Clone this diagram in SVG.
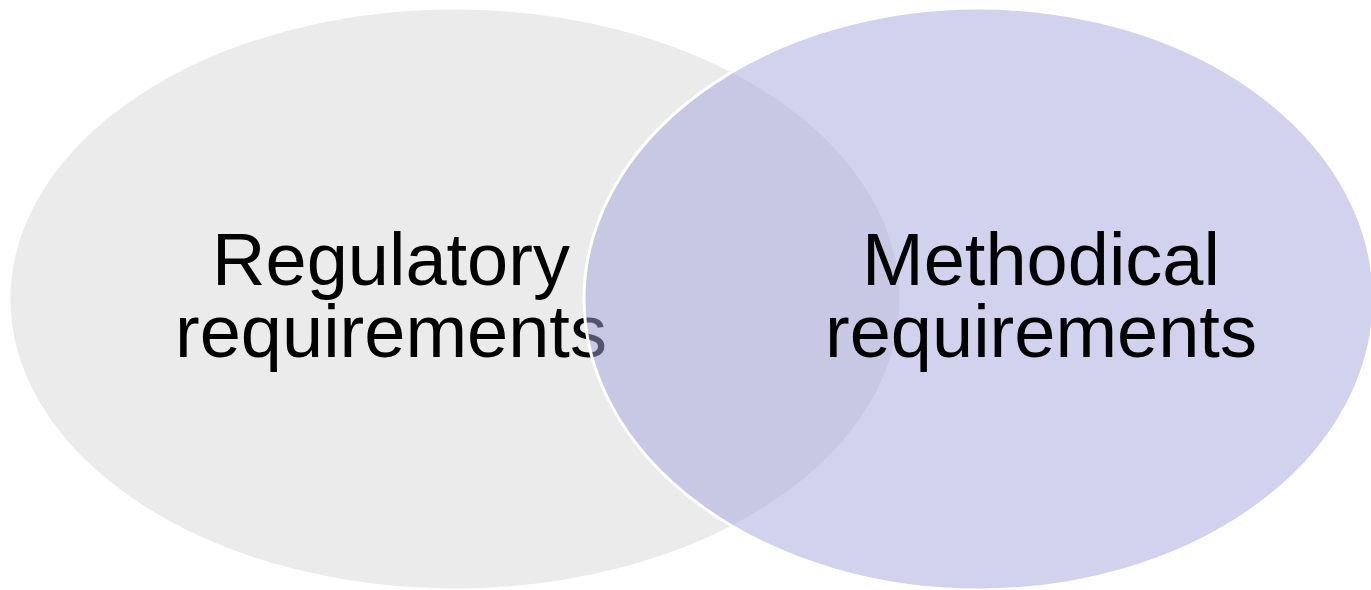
<svg xmlns="http://www.w3.org/2000/svg" width="1371" height="590" viewBox="0 0 1371 590">
  <style>
    .label { font-family: "Liberation Sans", Arial, sans-serif; font-size: 74px; fill: #000000; text-anchor: middle; }
    .circle { stroke: #FFFFFF; stroke-width: 3; }
  </style>
  <rect width="1371" height="590" fill="#FFFFFF"/>
  <!-- Left set: opaque grey -->
  <g id="regulatory">
    <ellipse class="circle" cx="455" cy="299" rx="446" ry="291" fill="#EBEBEB"/>
    <text class="label" x="391" y="285">Regulatory<tspan x="391" dy="72">requirements</tspan></text>
  </g>
  <!-- Right set: half-transparent lavender laid over the left one -->
  <g id="methodical">
    <ellipse class="circle" cx="979" cy="299" rx="395" ry="291" fill="#A5A5DD" fill-opacity="0.5"/>
    <text class="label" x="1041" y="285">Methodical<tspan x="1041" dy="72">requirements</tspan></text>
  </g>
</svg>
